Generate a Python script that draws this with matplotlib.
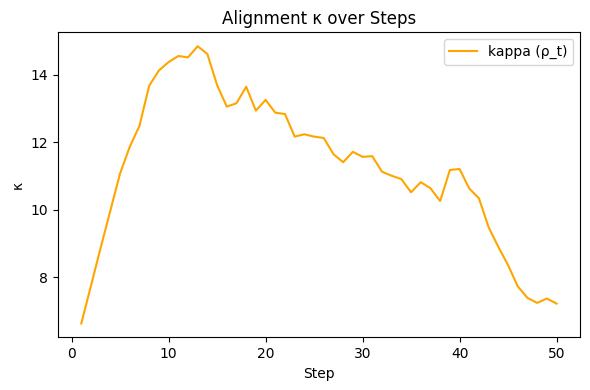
import matplotlib
matplotlib.use('Agg')
from matplotlib import pyplot as plt

steps = list(range(1, 51))
kappa = [6.63, 7.75, 8.88, 9.98, 11.08, 11.87, 12.49, 13.68, 14.13, 14.38,
         14.56, 14.52, 14.85, 14.62, 13.70, 13.06, 13.16, 13.65, 12.94, 13.26,
         12.88, 12.84, 12.17, 12.24, 12.17, 12.13, 11.65, 11.41, 11.72, 11.57,
         11.59, 11.13, 11.01, 10.91, 10.52, 10.82, 10.64, 10.26, 11.18, 11.21,
         10.63, 10.34, 9.48, 8.90, 8.36, 7.73, 7.39, 7.24, 7.37, 7.22]

fig, ax = plt.subplots(figsize=(5.9, 3.9), dpi=100)
ax.plot(steps, kappa, color='orange', label='kappa (ρ_t)')
ax.set_title('Alignment κ over Steps')
ax.set_xlabel('Step')
ax.set_ylabel('κ')
ax.legend(loc='upper right')
fig.subplots_adjust(left=0.0975, right=0.9836, bottom=0.135, top=0.917)
plt.savefig('out.png')
